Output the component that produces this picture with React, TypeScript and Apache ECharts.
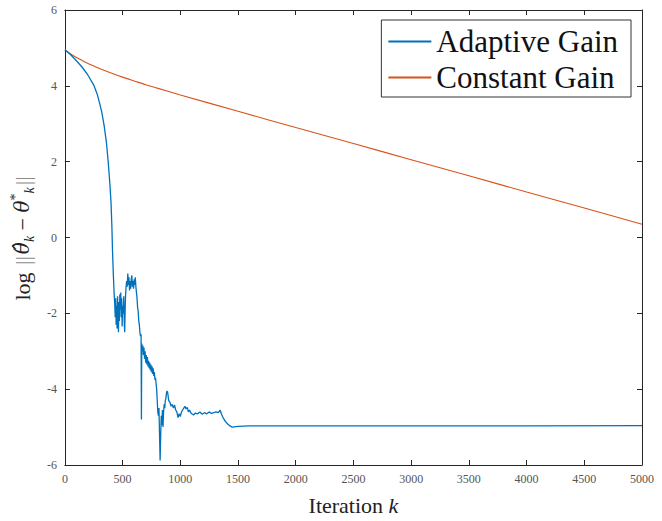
import React, { useEffect, useRef } from "react";
import * as echarts from "echarts";

const xTicks = { min: 0, max: 5000, interval: 500 };
const yTicks = { min: -6, max: 6, interval: 2 };

const seriesNames = ["Adaptive Gain", "Constant Gain"];

const adaptiveGain: [number, number][] = [
  [0, 4.95], [50, 4.82], [100, 4.66], [150, 4.49], [200, 4.28], [250, 4.02], [280, 3.78],
  [300, 3.55], [320, 3.3], [340, 2.95], [360, 2.5], [375, 2.0], [390, 1.4], [400, 0.9],
  [407, 0.3], [413, -0.4], [420, -1.0], [427, -1.5], [432, -1.75], [436, -2.1], [440, -1.6],
  [444, -2.3], [448, -1.8], [452, -2.4], [456, -1.55], [460, -2.0], [464, -2.5], [468, -1.7],
  [472, -2.2], [476, -1.5], [480, -1.9], [484, -1.45], [488, -2.1], [492, -1.6], [496, -2.35],
  [500, -1.8], [505, -2.0], [510, -1.55], [514, -2.2], [518, -2.5], [522, -1.9], [526, -1.5],
  [530, -1.3], [535, -1.15], [540, -1.3], [545, -0.95], [550, -1.25], [555, -1.05], [560, -1.4],
  [565, -1.15], [570, -1.35], [575, -1.1], [580, -1.0], [585, -1.3], [590, -1.15], [595, -1.35],
  [600, -1.1], [605, -1.25], [610, -1.05], [615, -1.3], [620, -1.45], [625, -1.6], [630, -1.85],
  [635, -1.95], [640, -2.2], [645, -2.3], [650, -2.5], [655, -2.6], [660, -2.55], [663, -4.8],
  [666, -2.8], [670, -2.95], [675, -2.85], [680, -3.1], [685, -2.9], [690, -3.2], [695, -3.0],
  [700, -3.3], [705, -3.1], [710, -3.35], [715, -3.15], [720, -3.4], [725, -3.25], [730, -3.45],
  [735, -3.3], [740, -3.5], [745, -3.35], [750, -3.55], [755, -3.4], [760, -3.6], [765, -3.45],
  [770, -3.65], [775, -3.55], [780, -3.75], [785, -3.7], [790, -3.85], [795, -4.0], [800, -4.3],
  [805, -4.6], [810, -4.7], [815, -4.5], [820, -5.2], [825, -5.88], [830, -5.2], [835, -4.7],
  [840, -4.95], [845, -4.55], [850, -5.0], [855, -4.6], [860, -4.4], [865, -4.5], [870, -4.3],
  [875, -4.25], [880, -4.1], [885, -4.05], [890, -4.08], [895, -4.2], [900, -4.3], [910, -4.35],
  [920, -4.45], [930, -4.4], [940, -4.5], [950, -4.42], [960, -4.55], [970, -4.6], [980, -4.75],
  [990, -4.65], [1000, -4.72], [1010, -4.6], [1020, -4.55], [1030, -4.5], [1040, -4.45],
  [1050, -4.52], [1060, -4.48], [1070, -4.6], [1080, -4.55], [1090, -4.62], [1100, -4.65],
  [1115, -4.68], [1130, -4.63], [1150, -4.65], [1170, -4.6], [1190, -4.66], [1210, -4.62],
  [1230, -4.65], [1250, -4.6], [1270, -4.64], [1290, -4.62], [1310, -4.6], [1330, -4.62],
  [1345, -4.55], [1355, -4.65], [1370, -4.75], [1390, -4.85], [1410, -4.92], [1430, -4.97],
  [1450, -5.0], [1500, -4.98], [1600, -4.97], [1800, -4.97], [2000, -4.97], [3000, -4.97],
  [4000, -4.97], [5000, -4.96],
];

const constantGain: [number, number][] = [
  [0, 4.95], [50, 4.84], [100, 4.75], [150, 4.67], [200, 4.59], [300, 4.46], [400, 4.34],
  [500, 4.23], [600, 4.13], [700, 4.03], [800, 3.94], [1000, 3.76], [1500, 3.33], [2000, 2.9],
  [2500, 2.48], [3000, 2.05], [3500, 1.63], [4000, 1.2], [4500, 0.78], [5000, 0.35],
];

const FONT = "'Liberation Serif', 'DejaVu Serif', serif";
const MATHFONT = "'DejaVu Serif', 'Liberation Serif', serif";
const AXIS = "#262626";

export default function App() {
  const ref = useRef<HTMLDivElement>(null);
  useEffect(() => {
    if (!ref.current) return;
    const chart = echarts.init(ref.current, undefined, { renderer: "svg" });
    const baseX = {
      type: "value" as const,
      min: xTicks.min,
      max: xTicks.max,
      interval: xTicks.interval,
      splitLine: { show: false },
      axisLine: { show: true, onZero: false, lineStyle: { color: AXIS, width: 1 } },
      axisTick: { show: true, inside: true, length: 5, lineStyle: { color: AXIS } },
    };
    const baseY = {
      type: "value" as const,
      min: yTicks.min,
      max: yTicks.max,
      interval: yTicks.interval,
      splitLine: { show: false },
      axisLine: { show: true, onZero: false, lineStyle: { color: AXIS, width: 1 } },
      axisTick: { show: true, inside: true, length: 5, lineStyle: { color: AXIS } },
    };
    const plain = (v: number) => String(v);
    chart.setOption({
      animation: false,
      backgroundColor: "#ffffff",
      grid: { left: 63, right: 20, top: 10, bottom: 55, containLabel: false },
      legend: {
        data: seriesNames,
        orient: "vertical",
        right: 31,
        top: 20,
        icon: "rect",
        backgroundColor: "#ffffff",
        borderColor: "#333333",
        borderWidth: 1,
        borderRadius: 0,
        padding: [6, 13, 4, 7],
        itemGap: 5,
        itemWidth: 43,
        itemHeight: 2,
        textStyle: { fontFamily: FONT, fontSize: 31, color: "#111111" },
      },
      xAxis: [
        {
          ...baseX,
          position: "bottom",
          axisLabel: { show: true, fontFamily: FONT, fontSize: 12, color: "#555555", margin: 8, formatter: plain },
          name: "Iteration {i|k}",
          nameLocation: "middle",
          nameGap: 29,
          nameTextStyle: {
            fontFamily: FONT,
            fontSize: 22,
            color: "#222222",
            rich: { i: { fontFamily: FONT, fontSize: 22, fontStyle: "italic", color: "#222222" } },
          },
        },
        { ...baseX, position: "top", axisLabel: { show: false } },
      ],
      yAxis: [
        {
          ...baseY,
          position: "left",
          axisLabel: { show: true, fontFamily: FONT, fontSize: 12, color: "#555555", margin: 8, formatter: plain },
          name: "log {n|||}{m|\u03B8\u0302}{s|k} \u2212 {m|\u03B8}{p|*}{s|k}{n|||}",
          nameLocation: "middle",
          nameGap: 22,
          nameRotate: 90,
          nameTextStyle: {
            fontFamily: FONT,
            fontSize: 22,
            color: "#222222",
            lineHeight: 28,
            rich: {
              n: { fontFamily: FONT, fontSize: 22, color: "#8a8a8a", lineHeight: 28, padding: [0, 2, 0, 2] },
              m: { fontFamily: MATHFONT, fontSize: 20, fontStyle: "italic", color: "#222222", lineHeight: 28 },
              s: { fontFamily: FONT, fontSize: 14, fontStyle: "italic", color: "#222222", lineHeight: 16, verticalAlign: "bottom" },
              p: { fontFamily: FONT, fontSize: 14, color: "#222222", lineHeight: 16, verticalAlign: "top" },
            },
          },
        },
        { ...baseY, position: "right", axisLabel: { show: false } },
      ],
      series: [
        {
          name: seriesNames[0],
          type: "line",
          data: adaptiveGain,
          xAxisIndex: 0,
          yAxisIndex: 0,
          showSymbol: false,
          symbol: "none",
          lineStyle: { color: "#0072BD", width: 1.3 },
          itemStyle: { color: "#0072BD" },
          z: 3,
        },
        {
          name: seriesNames[1],
          type: "line",
          data: constantGain,
          xAxisIndex: 0,
          yAxisIndex: 0,
          showSymbol: false,
          symbol: "none",
          smooth: 0.3,
          lineStyle: { color: "#D95319", width: 1.1 },
          itemStyle: { color: "#D95319" },
          z: 2,
        },
      ],
    });
    return () => chart.dispose();
  }, []);
  return <div ref={ref} style={{ width: 662, height: 521, position: "absolute", left: 0, top: 0 }} />;
}
